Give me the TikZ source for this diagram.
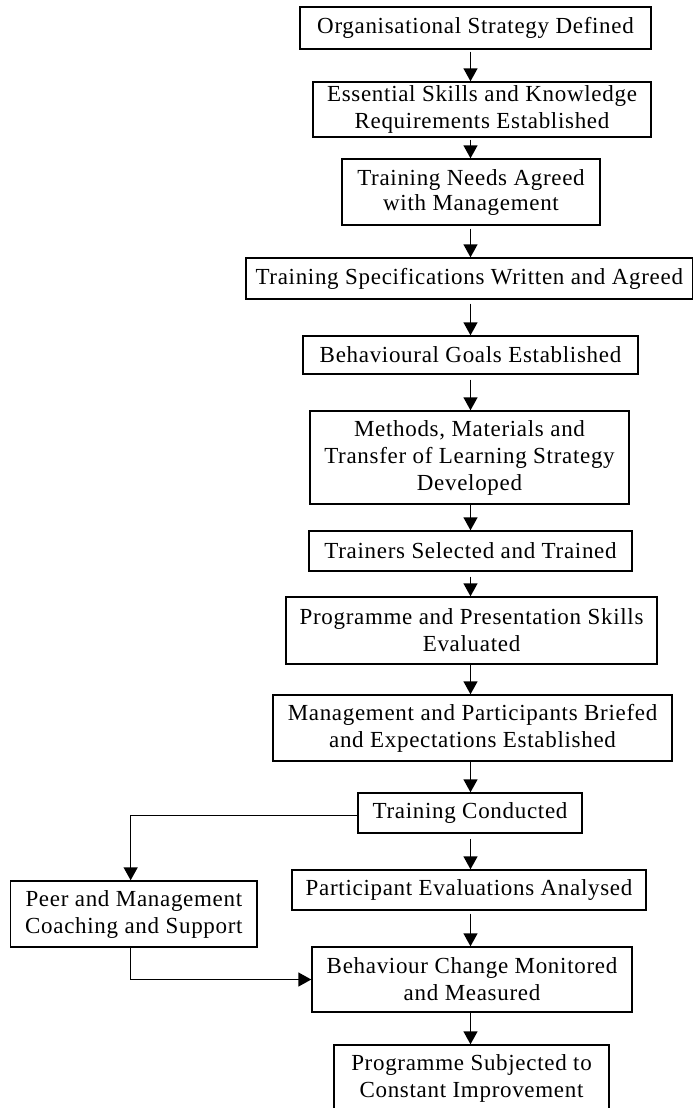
\documentclass[tikz,border=0pt]{standalone}
\usepackage{fontspec}
\setmainfont{Liberation Serif}[LetterSpace=3]
\usetikzlibrary{arrows.meta}
\begin{document}
\begin{tikzpicture}[x=1bp,y=-1bp,
  box/.style={draw,line width=1.4bp,rectangle,inner sep=0pt,align=center,
    font=\fontsize{23bp}{27bp}\selectfont},
  arr/.style={line width=1.4bp,-{Triangle[length=13bp,width=14bp]}}]
\useasboundingbox (0,0) rectangle (694,1108);
\clip (0,0) rectangle (694,1108);
% main column axis
\coordinate (ax) at (470.5,0);
% process steps
\node[box,minimum width=351bp,minimum height=42bp] (osd) at (475.5,28) {Organisational Strategy Defined};
\node[box,minimum width=338bp,minimum height=55bp] (esk) at (482,109.5) {Essential Skills and Knowledge\\Requirements Established};
\node[box,minimum width=258bp,minimum height=66bp,font=\fontsize{23bp}{25bp}\selectfont] (tna) at (471,192) {Training Needs Agreed\\with Management};
\node[box,minimum width=446.5bp,minimum height=41bp] (tsw) at (469.25,278.5) {Training Specifications Written and Agreed};
\node[box,minimum width=335bp,minimum height=38bp] (bge) at (470.5,355) {Behavioural Goals Established};
\node[box,minimum width=319bp,minimum height=93bp] (mmt) at (469.5,457.5) {Methods, Materials and\\Transfer of Learning Strategy\\Developed};
\node[box,minimum width=323bp,minimum height=40bp] (tst) at (470.5,551) {Trainers Selected and Trained};
\node[box,minimum width=371bp,minimum height=67bp] (pps) at (471.5,630.5) {Programme and Presentation Skills\\Evaluated};
\node[box,minimum width=399bp,minimum height=66bp] (mpb) at (472.5,728) {Management and Participants Briefed\\and Expectations Established};
\node[box,minimum width=224bp,minimum height=40bp] (tc) at (470,813) {Training Conducted};
\node[box,minimum width=246.3bp,minimum height=66bp] (peer) at (133.85,914) {Peer and Management\\Coaching and Support};
\node[box,minimum width=354bp,minimum height=40bp] (pea) at (469,890) {Participant Evaluations Analysed};
\node[box,minimum width=320bp,minimum height=65bp] (bcm) at (472,979.5) {Behaviour Change Monitored\\and Measured};
\node[box,minimum width=275bp,minimum height=66bp] (psc) at (471.5,1078) {Programme Subjected to\\Constant Improvement};
% main flow
\draw[arr,shorten <=2bp] (osd.south -| ax) -- (esk.north -| ax);
\draw[arr,shorten <=2bp] (esk.south -| ax) -- (tna.north -| ax);
\draw[arr,shorten <=3bp] (tna.south -| ax) -- (tsw.north -| ax);
\draw[arr,shorten <=4bp] (tsw.south -| ax) -- (bge.north -| ax);
\draw[arr,shorten <=5bp] (bge.south -| ax) -- (mmt.north -| ax);
\draw[arr] (mmt.south -| ax) -- (tst.north -| ax);
\draw[arr,shorten <=5bp] (tst.south -| ax) -- (pps.north -| ax);
\draw[arr] (pps.south -| ax) -- (mpb.north -| ax);
\draw[arr] (mpb.south -| ax) -- (tc.north -| ax);
\draw[arr,shorten <=5bp] (tc.south -| ax) -- (pea.north -| ax);
\draw[arr,shorten <=3bp] (pea.south -| ax) -- (bcm.north -| ax);
\draw[arr] (bcm.south -| ax) -- (psc.north -| ax);
% side branch through coaching
\draw[arr] ([yshift=-2.7bp]tc.west) -| ([xshift=-3.2bp]peer.north);
\draw[arr] ([xshift=-3.2bp]peer.south) |- (bcm.west);
\end{tikzpicture}
\end{document}
